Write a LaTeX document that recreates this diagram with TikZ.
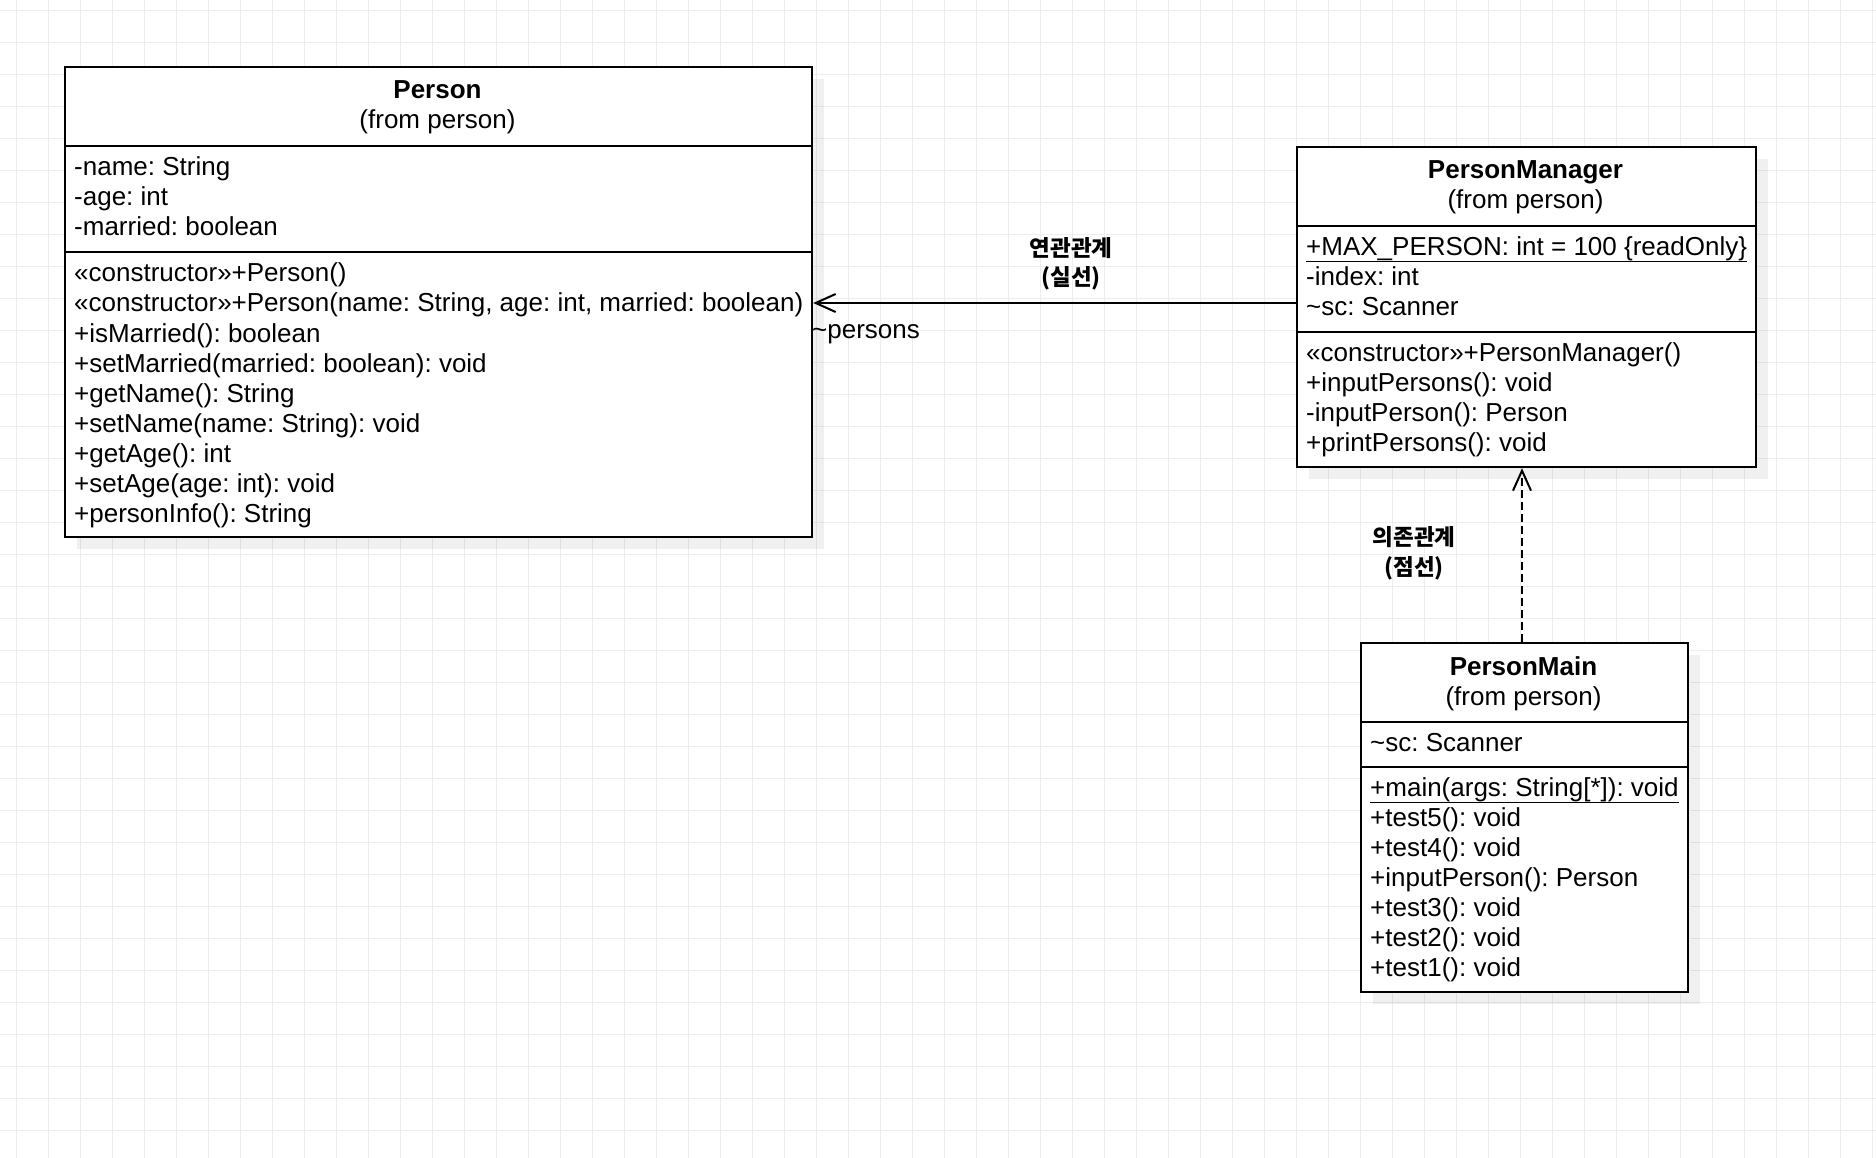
\documentclass[tikz,border=0pt]{standalone}
\usepackage{fontspec}
\setmainfont{Liberation Sans}
\newfontfamily\kr{Noto Sans CJK KR}
\usetikzlibrary{arrows.meta}
\definecolor{gridc}{HTML}{EDEDED}
\frenchspacing
\tikzset{
  umlbox/.style={draw=black, line width=2.2pt, fill=white, inner sep=0pt, anchor=north west},
  shadowfill/.style={fill=black, fill opacity=0.06},
  txt/.style={anchor=base west, inner sep=0pt, font=\fontsize{26}{30}\selectfont\frenchspacing},
  ttl/.style={anchor=base, inner sep=0pt, font=\fontsize{26}{30}\selectfont\bfseries},
  frm/.style={anchor=base, inner sep=0pt, font=\fontsize{26}{30}\selectfont},
  divline/.style={line width=2.2pt},
  uline/.style={line width=1.8pt},
  krlbl/.style={anchor=base, inner sep=0pt, font=\kr\bfseries\fontsize{22.5}{29}\selectfont},
  assoc/.style={line width=2pt, -{Straight Barb[length=20pt,width=18pt,line width=2pt]}},
  dep/.style={line width=2pt, dash pattern=on 8pt off 4pt, -{Straight Barb[length=20pt,width=18pt,line width=2pt]}},
}
\begin{document}
\begin{tikzpicture}[x=1pt,y=-1pt]
\useasboundingbox (0,0) rectangle (1876,1158);
\fill[white] (0,0) rectangle (1876,1158);
% grid
\foreach \k in {0,...,58} { \draw[gridc, line width=1pt] (16.7+32*\k,0) -- (16.7+32*\k,1158); }
\foreach \k in {0,...,35} { \draw[gridc, line width=1pt] (0,10.7+32*\k) -- (1876,10.7+32*\k); }

% shadows
\fill[shadowfill] (77,79) rectangle (824,549);
\fill[shadowfill] (1309,159) rectangle (1768,479);
\fill[shadowfill] (1373,655) rectangle (1700,1004);

% ---------- Person ----------
\node[umlbox, minimum width=747pt, minimum height=470pt] (person) at (64,66) {};
\draw[divline] (64,146) -- (811,146);
\draw[divline] (64,252) -- (811,252);
\node[ttl] (pt1) at (437.5,99) {Person};
\node[frm] (pt2) at (437.5,129) {(from person)};
\node[txt] (pa1) at (74,176) {-name: String};
\node[txt] (pa2) at (74,206) {-age: int};
\node[txt] (pa3) at (74,236) {-married: boolean};
\node[txt] (pm1) at (74,282) {«constructor»+Person()};
\node[txt] (pm2) at (74,312) {«constructor»+Person(name: String, age: int, married: boolean)};
\node[txt] (pm3) at (74,342) {+isMarried(): boolean};
\node[txt] (pm4) at (74,372) {+setMarried(married: boolean): void};
\node[txt] (pm5) at (74,402) {+getName(): String};
\node[txt] (pm6) at (74,432) {+setName(name: String): void};
\node[txt] (pm7) at (74,462) {+getAge(): int};
\node[txt] (pm8) at (74,492) {+setAge(age: int): void};
\node[txt] (pm9) at (74,522) {+personInfo(): String};

% ---------- PersonManager ----------
\node[umlbox, minimum width=459pt, minimum height=320pt] (pmgr) at (1296,146) {};
\draw[divline] (1296,226) -- (1755,226);
\draw[divline] (1296,332) -- (1755,332);
\node[ttl] (mt1) at (1525.5,179) {PersonManager};
\node[frm] (mt2) at (1525.5,209) {(from person)};
\node[txt] (ma1) at (1306,255.5) {+MAX\_PERSON: int = 100 \{readOnly\}};
\draw[uline] ([yshift=-6pt]ma1.base west) -- ([yshift=-6pt]ma1.base east);
\node[txt] (ma2) at (1306,285.5) {-index: int};
\node[txt] (ma3) at (1306,315.5) {\textasciitilde sc: Scanner};
\node[txt] (mm1) at (1306,361.5) {«constructor»+PersonManager()};
\node[txt] (mm2) at (1306,391.5) {+inputPersons(): void};
\node[txt] (mm3) at (1306,421.5) {-inputPerson(): Person};
\node[txt] (mm4) at (1306,451.5) {+printPersons(): void};

% ---------- PersonMain ----------
\node[umlbox, minimum width=327pt, minimum height=349pt] (pmain) at (1360,642) {};
\draw[divline] (1360,722) -- (1687,722);
\draw[divline] (1360,767) -- (1687,767);
\node[ttl] (xt1) at (1523.5,675) {PersonMain};
\node[frm] (xt2) at (1523.5,705) {(from person)};
\node[txt] (xa1) at (1370,751.5) {\textasciitilde sc: Scanner};
\node[txt] (xm1) at (1370,796.5) {+main(args: String[*]): void};
\draw[uline] ([yshift=-6pt]xm1.base west) -- ([yshift=-6pt]xm1.base east);
\node[txt] (xm2) at (1370,826.5) {+test5(): void};
\node[txt] (xm3) at (1370,856.5) {+test4(): void};
\node[txt] (xm4) at (1370,886.5) {+inputPerson(): Person};
\node[txt] (xm5) at (1370,916.5) {+test3(): void};
\node[txt] (xm6) at (1370,946.5) {+test2(): void};
\node[txt] (xm7) at (1370,976.5) {+test1(): void};

% ---------- connectors ----------
\coordinate (assocy) at (0,303);
\draw[assoc] (pmgr.west |- assocy) -- (person.east |- assocy);
\node[txt] (roleP) at (812,338.5) {\textasciitilde persons};
\node[krlbl] (al1) at (1071,256.5) {연관관계};
\node[krlbl] (al2) at (1071,286) {(실선)};

\coordinate (depx) at (1522,0);
\draw[dep] (pmain.north -| depx) -- (pmgr.south -| depx);
\node[krlbl] (dl1) at (1414,545.5) {의존관계};
\node[krlbl] (dl2) at (1414,575) {(점선)};
\end{tikzpicture}
\end{document}
